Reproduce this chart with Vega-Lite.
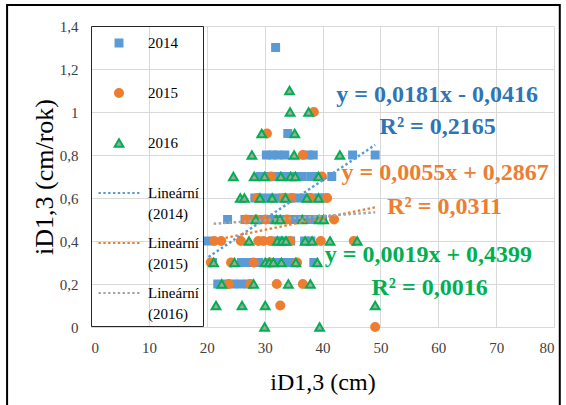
{
  "$schema": "https://vega.github.io/schema/vega-lite/v6.json",
  "width": 463,
  "height": 301,
  "autosize": {"type": "none"},
  "padding": {"left": 91, "top": 26, "right": 12, "bottom": 78},
  "background": "white",
  "config": {
    "view": {"stroke": null},
    "style": {"guide-label": {"lineHeight": 21}},
    "axis": {
      "labelFont": "Times New Roman",
      "labelFontSize": 15,
      "labelColor": "#404040",
      "titleFont": "Times New Roman",
      "titleFontWeight": "normal",
      "titleColor": "#000000",
      "gridColor": "#d9d9d9",
      "gridWidth": 1,
      "ticks": false
    },
    "legend": {
      "orient": "none",
      "legendX": 0,
      "legendY": 0,
      "padding": 4,
      "strokeColor": "#262626",
      "labelFont": "Times New Roman",
      "labelFontSize": 15,
      "labelColor": "#000000",
      "labelOffset": 16,
      "labelLimit": 200,
      "symbolSize": 576,
      "symbolOffset": 11,
      "symbolStrokeWidth": 2,
      "rowPadding": 8
    }
  },
  "datasets": {
    "pts": [
      {"s": "2014", "x": 31.9, "y": 1.3},
      {"s": "2014", "x": 34.0, "y": 0.9},
      {"s": "2014", "x": 30.3, "y": 0.8},
      {"s": "2014", "x": 31.3, "y": 0.8},
      {"s": "2014", "x": 32.3, "y": 0.8},
      {"s": "2014", "x": 33.5, "y": 0.8},
      {"s": "2014", "x": 37.5, "y": 0.8},
      {"s": "2014", "x": 38.4, "y": 0.8},
      {"s": "2014", "x": 45.2, "y": 0.8},
      {"s": "2014", "x": 49.1, "y": 0.8},
      {"s": "2014", "x": 29.2, "y": 0.7},
      {"s": "2014", "x": 30.5, "y": 0.7},
      {"s": "2014", "x": 32.0, "y": 0.7},
      {"s": "2014", "x": 33.5, "y": 0.7},
      {"s": "2014", "x": 35.0, "y": 0.7},
      {"s": "2014", "x": 36.5, "y": 0.7},
      {"s": "2014", "x": 38.0, "y": 0.7},
      {"s": "2014", "x": 39.2, "y": 0.7},
      {"s": "2014", "x": 41.6, "y": 0.7},
      {"s": "2014", "x": 28.3, "y": 0.6},
      {"s": "2014", "x": 29.5, "y": 0.6},
      {"s": "2014", "x": 30.8, "y": 0.6},
      {"s": "2014", "x": 32.0, "y": 0.6},
      {"s": "2014", "x": 33.2, "y": 0.6},
      {"s": "2014", "x": 34.5, "y": 0.6},
      {"s": "2014", "x": 35.8, "y": 0.6},
      {"s": "2014", "x": 37.0, "y": 0.6},
      {"s": "2014", "x": 38.3, "y": 0.6},
      {"s": "2014", "x": 39.5, "y": 0.6},
      {"s": "2014", "x": 40.3, "y": 0.6},
      {"s": "2014", "x": 23.6, "y": 0.5},
      {"s": "2014", "x": 26.6, "y": 0.5},
      {"s": "2014", "x": 28.0, "y": 0.5},
      {"s": "2014", "x": 29.4, "y": 0.5},
      {"s": "2014", "x": 30.8, "y": 0.5},
      {"s": "2014", "x": 32.2, "y": 0.5},
      {"s": "2014", "x": 33.6, "y": 0.5},
      {"s": "2014", "x": 35.0, "y": 0.5},
      {"s": "2014", "x": 36.4, "y": 0.5},
      {"s": "2014", "x": 37.8, "y": 0.5},
      {"s": "2014", "x": 39.2, "y": 0.5},
      {"s": "2014", "x": 40.0, "y": 0.5},
      {"s": "2014", "x": 20.3, "y": 0.4},
      {"s": "2014", "x": 32.0, "y": 0.4},
      {"s": "2014", "x": 33.2, "y": 0.4},
      {"s": "2014", "x": 34.5, "y": 0.4},
      {"s": "2014", "x": 36.9, "y": 0.4},
      {"s": "2014", "x": 38.0, "y": 0.4},
      {"s": "2014", "x": 21.0, "y": 0.3},
      {"s": "2014", "x": 26.0, "y": 0.3},
      {"s": "2014", "x": 27.3, "y": 0.3},
      {"s": "2014", "x": 29.0, "y": 0.3},
      {"s": "2014", "x": 31.0, "y": 0.3},
      {"s": "2014", "x": 32.2, "y": 0.3},
      {"s": "2014", "x": 33.4, "y": 0.3},
      {"s": "2014", "x": 34.5, "y": 0.3},
      {"s": "2014", "x": 38.5, "y": 0.3},
      {"s": "2014", "x": 21.9, "y": 0.2},
      {"s": "2014", "x": 23.2, "y": 0.2},
      {"s": "2014", "x": 24.5, "y": 0.2},
      {"s": "2014", "x": 25.8, "y": 0.2},
      {"s": "2014", "x": 27.2, "y": 0.2},
      {"s": "2015", "x": 38.5, "y": 1.0},
      {"s": "2015", "x": 30.4, "y": 0.9},
      {"s": "2015", "x": 36.6, "y": 0.8},
      {"s": "2015", "x": 31.1, "y": 0.7},
      {"s": "2015", "x": 39.9, "y": 0.7},
      {"s": "2015", "x": 28.7, "y": 0.6},
      {"s": "2015", "x": 33.3, "y": 0.6},
      {"s": "2015", "x": 34.7, "y": 0.6},
      {"s": "2015", "x": 37.9, "y": 0.6},
      {"s": "2015", "x": 40.8, "y": 0.6},
      {"s": "2015", "x": 26.8, "y": 0.5},
      {"s": "2015", "x": 28.5, "y": 0.5},
      {"s": "2015", "x": 30.2, "y": 0.5},
      {"s": "2015", "x": 33.9, "y": 0.5},
      {"s": "2015", "x": 42.0, "y": 0.5},
      {"s": "2015", "x": 21.3, "y": 0.4},
      {"s": "2015", "x": 22.5, "y": 0.4},
      {"s": "2015", "x": 25.9, "y": 0.4},
      {"s": "2015", "x": 28.9, "y": 0.4},
      {"s": "2015", "x": 29.8, "y": 0.4},
      {"s": "2015", "x": 31.0, "y": 0.4},
      {"s": "2015", "x": 34.4, "y": 0.4},
      {"s": "2015", "x": 39.7, "y": 0.4},
      {"s": "2015", "x": 45.4, "y": 0.4},
      {"s": "2015", "x": 20.7, "y": 0.3},
      {"s": "2015", "x": 24.2, "y": 0.3},
      {"s": "2015", "x": 28.1, "y": 0.3},
      {"s": "2015", "x": 30.9, "y": 0.3},
      {"s": "2015", "x": 35.6, "y": 0.3},
      {"s": "2015", "x": 23.8, "y": 0.2},
      {"s": "2015", "x": 27.5, "y": 0.2},
      {"s": "2015", "x": 32.1, "y": 0.2},
      {"s": "2015", "x": 36.6, "y": 0.2},
      {"s": "2015", "x": 32.7, "y": 0.1},
      {"s": "2015", "x": 49.1, "y": 0.0},
      {"s": "2016", "x": 34.3, "y": 1.1},
      {"s": "2016", "x": 34.4, "y": 1.0},
      {"s": "2016", "x": 37.6, "y": 1.0},
      {"s": "2016", "x": 29.5, "y": 0.9},
      {"s": "2016", "x": 35.2, "y": 0.9},
      {"s": "2016", "x": 27.8, "y": 0.8},
      {"s": "2016", "x": 35.1, "y": 0.8},
      {"s": "2016", "x": 43.0, "y": 0.8},
      {"s": "2016", "x": 24.6, "y": 0.7},
      {"s": "2016", "x": 28.2, "y": 0.7},
      {"s": "2016", "x": 30.0, "y": 0.7},
      {"s": "2016", "x": 32.8, "y": 0.7},
      {"s": "2016", "x": 34.5, "y": 0.7},
      {"s": "2016", "x": 35.3, "y": 0.7},
      {"s": "2016", "x": 39.3, "y": 0.7},
      {"s": "2016", "x": 25.8, "y": 0.6},
      {"s": "2016", "x": 26.5, "y": 0.6},
      {"s": "2016", "x": 29.2, "y": 0.6},
      {"s": "2016", "x": 31.3, "y": 0.6},
      {"s": "2016", "x": 33.6, "y": 0.6},
      {"s": "2016", "x": 37.3, "y": 0.6},
      {"s": "2016", "x": 39.3, "y": 0.6},
      {"s": "2016", "x": 28.5, "y": 0.5},
      {"s": "2016", "x": 32.0, "y": 0.5},
      {"s": "2016", "x": 32.7, "y": 0.5},
      {"s": "2016", "x": 36.5, "y": 0.5},
      {"s": "2016", "x": 39.4, "y": 0.5},
      {"s": "2016", "x": 40.2, "y": 0.5},
      {"s": "2016", "x": 27.3, "y": 0.4},
      {"s": "2016", "x": 32.2, "y": 0.4},
      {"s": "2016", "x": 33.0, "y": 0.4},
      {"s": "2016", "x": 33.7, "y": 0.4},
      {"s": "2016", "x": 37.0, "y": 0.4},
      {"s": "2016", "x": 38.2, "y": 0.4},
      {"s": "2016", "x": 41.3, "y": 0.4},
      {"s": "2016", "x": 46.0, "y": 0.4},
      {"s": "2016", "x": 21.2, "y": 0.3},
      {"s": "2016", "x": 24.8, "y": 0.3},
      {"s": "2016", "x": 30.1, "y": 0.3},
      {"s": "2016", "x": 30.8, "y": 0.3},
      {"s": "2016", "x": 31.5, "y": 0.3},
      {"s": "2016", "x": 32.9, "y": 0.3},
      {"s": "2016", "x": 35.4, "y": 0.3},
      {"s": "2016", "x": 39.1, "y": 0.3},
      {"s": "2016", "x": 22.6, "y": 0.2},
      {"s": "2016", "x": 28.1, "y": 0.2},
      {"s": "2016", "x": 34.1, "y": 0.2},
      {"s": "2016", "x": 37.9, "y": 0.2},
      {"s": "2016", "x": 21.6, "y": 0.1},
      {"s": "2016", "x": 26.1, "y": 0.1},
      {"s": "2016", "x": 30.1, "y": 0.1},
      {"s": "2016", "x": 49.1, "y": 0.1},
      {"s": "2016", "x": 30.0, "y": 0.0},
      {"s": "2016", "x": 39.5, "y": 0.0}
    ],
    "trend": [
      {"s": "Lineární (2014)", "x": 20.3, "y": 0.3258},
      {"s": "Lineární (2014)", "x": 49.1, "y": 0.8471},
      {"s": "Lineární (2015)", "x": 20.7, "y": 0.4006},
      {"s": "Lineární (2015)", "x": 49.1, "y": 0.5567},
      {"s": "Lineární (2016)", "x": 21.2, "y": 0.4802},
      {"s": "Lineární (2016)", "x": 49.1, "y": 0.5332}
    ],
    "eq": [
      {"g": "2014", "x": 59.8, "y": 1.079, "t": "y = 0,0181x - 0,0416"},
      {"g": "2014", "x": 59.9, "y": 0.932, "t": "R² = 0,2165"},
      {"g": "2015", "x": 61.2, "y": 0.715, "t": "y = 0,0055x + 0,2867"},
      {"g": "2015", "x": 61.1, "y": 0.56, "t": "R² = 0,0311"},
      {"g": "2016", "x": 58.3, "y": 0.335, "t": "y = 0,0019x + 0,4399"},
      {"g": "2016", "x": 58.5, "y": 0.18, "t": "R² = 0,0016"}
    ]
  },
  "layer": [
    {
      "data": {"name": "pts"},
      "mark": {"type": "point", "size": 576, "strokeWidth": 2, "opacity": 1},
      "encoding": {
        "x": {
          "field": "x", "type": "quantitative",
          "scale": {"domain": [0, 80], "nice": false},
          "axis": {
            "values": [0, 10, 20, 30, 40, 50, 60, 70, 80],
            "title": "iD1,3 (cm)",
            "titleFontSize": 24,
            "titlePadding": 15,
            "labelPadding": 13,
            "domainColor": "#d9d9d9"
          }
        },
        "y": {
          "field": "y", "type": "quantitative",
          "scale": {"domain": [0, 1.4], "nice": false},
          "axis": {
            "values": [0, 0.2, 0.4, 0.6, 0.8, 1, 1.2, 1.4],
            "labelExpr": "replace(toString(round(datum.value * 10) / 10), '.', ',')",
            "title": "iD1,3 (cm/rok)",
            "titleFontSize": 26,
            "titlePadding": 2,
            "labelPadding": 13,
            "domain": false
          }
        },
        "fill": {
          "field": "s", "type": "nominal",
          "scale": {
            "domain": ["2014", "2015", "2016", "Lineární (2014)", "Lineární (2015)", "Lineární (2016)"],
            "range": ["#5b9bd5", "#ed7d31", "#a5a5a5", "#5b9bd5", "#ed7d31", "#a5a5a5"]
          },
          "legend": {"title": null, "labelExpr": "indexof(datum.label, ' ') > 0 ? split(datum.label, ' ') : [datum.label, ' ']"}
        },
        "stroke": {
          "field": "s", "type": "nominal",
          "scale": {
            "domain": ["2014", "2015", "2016", "Lineární (2014)", "Lineární (2015)", "Lineární (2016)"],
            "range": ["#5b9bd5", "#ed7d31", "#00b050", "#5b9bd5", "#ed7d31", "#a5a5a5"]
          },
          "legend": {"title": null, "labelExpr": "indexof(datum.label, ' ') > 0 ? split(datum.label, ' ') : [datum.label, ' ']"}
        },
        "shape": {
          "field": "s", "type": "nominal",
          "scale": {
            "domain": ["2014", "2015", "2016", "Lineární (2014)", "Lineární (2015)", "Lineární (2016)"],
            "range": [
              "M-0.29,-0.29H0.29V0.29H-0.29Z",
              "M-0.335,0A0.335,0.335,0,1,1,0.335,0A0.335,0.335,0,1,1,-0.335,0Z",
              "M0,-0.316L0.364,0.316L-0.364,0.316Z",
              "M-1.71,0h0.2M-1.308,0h0.2M-0.906,0h0.2M-0.504,0h0.2M-0.102,0h0.2M0.3,0h0.2M0.702,0h0.2M1.104,0h0.2M1.506,0h0.2",
              "M-1.71,0h0.2M-1.308,0h0.2M-0.906,0h0.2M-0.504,0h0.2M-0.102,0h0.2M0.3,0h0.2M0.702,0h0.2M1.104,0h0.2M1.506,0h0.2",
              "M-1.71,0h0.2M-1.308,0h0.2M-0.906,0h0.2M-0.504,0h0.2M-0.102,0h0.2M0.3,0h0.2M0.702,0h0.2M1.104,0h0.2M1.506,0h0.2"
            ]
          },
          "legend": {"title": null, "labelExpr": "indexof(datum.label, ' ') > 0 ? split(datum.label, ' ') : [datum.label, ' ']"}
        }
      }
    },
    {
      "data": {"name": "trend"},
      "mark": {"type": "line", "strokeDash": [2.5, 2.5], "strokeWidth": 2.5},
      "encoding": {
        "x": {"field": "x", "type": "quantitative"},
        "y": {"field": "y", "type": "quantitative"},
        "stroke": {"field": "s", "type": "nominal", "legend": {"title": null, "labelExpr": "indexof(datum.label, ' ') > 0 ? split(datum.label, ' ') : [datum.label, ' ']"}}
      }
    },
    {
      "data": {"name": "eq"},
      "mark": {"type": "text", "font": "Times New Roman", "fontWeight": "bold", "fontSize": 24, "align": "center", "baseline": "middle"},
      "encoding": {
        "x": {"field": "x", "type": "quantitative"},
        "y": {"field": "y", "type": "quantitative"},
        "text": {"field": "t"},
        "color": {
          "field": "g", "type": "nominal",
          "scale": {"domain": ["2014", "2015", "2016"], "range": ["#2e75b6", "#ed7d31", "#00b050"]},
          "legend": null
        }
      }
    },
    {
      "data": {"values": [{}]},
      "mark": {"type": "rect", "filled": false, "stroke": "#000000", "strokeWidth": 2, "clip": false},
      "encoding": {
        "x": {"datum": -14.5, "type": "quantitative"},
        "x2": {"datum": 81.0},
        "y": {"datum": 1.4977, "type": "quantitative"},
        "y2": {"datum": -0.4}
      }
    }
  ]
}
